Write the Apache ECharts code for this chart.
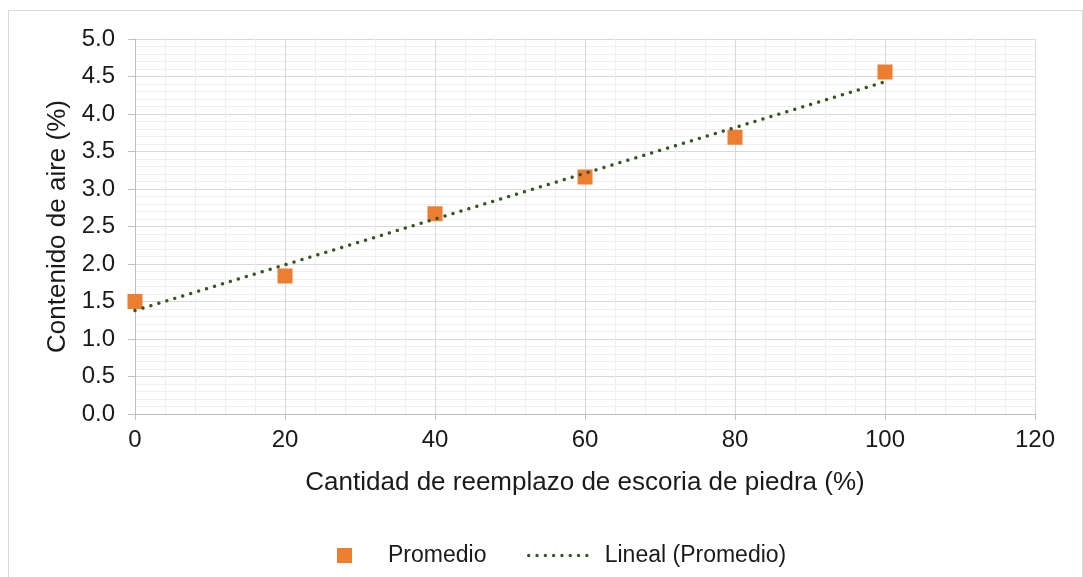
<!DOCTYPE html>
<html>
<head>
<meta charset="utf-8">
<script src="https://cdn.jsdelivr.net/npm/echarts@6/dist/echarts.min.js"></script>
<style>
  html, body { margin: 0; padding: 0; background: #ffffff; }
  #chart { width: 1083px; height: 577px; }
</style>
</head>
<body>
<div id="chart"></div>
<script>
// Replacement of natural aggregate by stone slag (%) vs. air content (%)
const replacement = [0, 20, 40, 60, 80, 100];
const airContent = [1.50, 1.84, 2.67, 3.16, 3.69, 4.56];

// Linear trend line end points
const trendX = [0, 100];
const trendY = [1.38, 4.43];

const xTicks = { min: 0, max: 120, interval: 20 };
const yTicks = { min: 0, max: 5, interval: 0.5 };

const FONT = '"Liberation Sans", Arial, sans-serif';
const TEXT = '#1a1a1a';
const TREND = '#375623';
const DOTS = [0.01, 8.3];

const chart = echarts.init(document.getElementById('chart'), null, { renderer: 'canvas' });

chart.setOption({
  animation: false,
  backgroundColor: '#ffffff',
  textStyle: { fontFamily: FONT },
  graphic: [{
    type: 'rect',
    shape: { x: 8.5, y: 10.5, width: 1074, height: 580 },
    style: { fill: 'none', stroke: '#d9d9d9', lineWidth: 1 },
    silent: true
  }],
  grid: { left: 135, right: 48, top: 39, bottom: 163 },
  xAxis: {
    type: 'value',
    min: xTicks.min, max: xTicks.max, interval: xTicks.interval,
    name: 'Cantidad de reemplazo de escoria de piedra (%)',
    nameLocation: 'middle',
    nameGap: 56,
    nameTextStyle: { fontSize: 26, color: TEXT, fontFamily: FONT },
    axisLine: { show: true, lineStyle: { color: '#bfbfbf', width: 1 } },
    axisTick: { show: true, length: 6, lineStyle: { color: '#bfbfbf' } },
    axisLabel: { fontSize: 24, color: TEXT, margin: 14, fontFamily: FONT },
    splitLine: { show: true, lineStyle: { color: '#d9d9d9', width: 1 } },
    minorTick: { show: false, splitNumber: 5 },
    minorSplitLine: { show: true, lineStyle: { color: '#efefef', width: 1 } }
  },
  yAxis: {
    type: 'value',
    min: yTicks.min, max: yTicks.max, interval: yTicks.interval,
    name: 'Contenido de aire (%)',
    nameLocation: 'middle',
    nameGap: 62,
    nameRotate: 90,
    nameTextStyle: { fontSize: 26, color: TEXT, fontFamily: FONT },
    axisLine: { show: true, lineStyle: { color: '#bfbfbf', width: 1 } },
    axisTick: { show: true, length: 7, lineStyle: { color: '#bfbfbf' } },
    axisLabel: {
      fontSize: 24, color: TEXT, margin: 20, fontFamily: FONT,
      formatter: v => v.toFixed(1)
    },
    splitLine: { show: true, lineStyle: { color: '#d9d9d9', width: 1 } },
    minorTick: { show: false, splitNumber: 5 },
    minorSplitLine: { show: true, lineStyle: { color: '#efefef', width: 1 } }
  },
  legend: [{
    data: [{ name: 'Promedio', icon: 'rect' }],
    left: 332, top: 539,
    itemWidth: 15, itemHeight: 15,
    itemStyle: { opacity: 1 },
    textStyle: { fontSize: 23, color: TEXT, fontFamily: FONT, padding: [0, 0, 0, 31] }
  }, {
    data: [{ name: 'Lineal (Promedio)' }],
    left: 522, top: 539,
    itemWidth: 66, itemHeight: 15,
    itemStyle: { color: 'rgba(0,0,0,0)', borderColor: 'rgba(0,0,0,0)', borderWidth: 0 },
    lineStyle: { color: TREND, width: 3.4, type: DOTS, cap: 'round' },
    textStyle: { fontSize: 23, color: TEXT, fontFamily: FONT, padding: [0, 0, 0, 5] }
  }],
  series: [{
    name: 'Lineal (Promedio)',
    type: 'line',
    data: trendX.map((x, i) => [x, trendY[i]]),
    symbol: 'none',
    showSymbol: false,
    z: 3,
    lineStyle: { color: TREND, width: 3.4, type: DOTS, cap: 'round' },
    itemStyle: { color: TREND }
  }, {
    name: 'Promedio',
    type: 'scatter',
    data: replacement.map((x, i) => [x, airContent[i]]),
    symbol: 'rect',
    symbolSize: 15,
    z: 2,
    itemStyle: { color: '#ed7d31', opacity: 1 }
  }]
});
</script>
</body>
</html>
